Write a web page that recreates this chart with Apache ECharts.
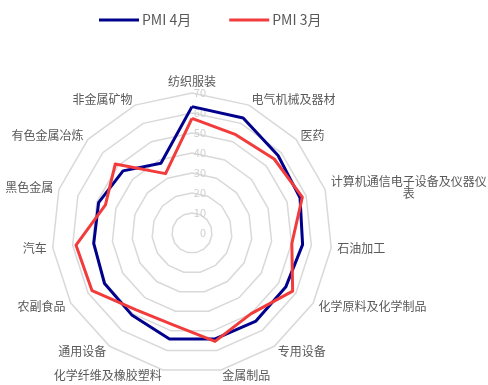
<!DOCTYPE html>
<html>
<head>
<meta charset="utf-8">
<script src="https://cdn.jsdelivr.net/npm/echarts@6/dist/echarts.min.js"></script>
<style>
  html, body { margin: 0; padding: 0; background: #ffffff; }
  #chart { width: 488px; height: 385px; }
</style>
</head>
<body>
<div id="chart"></div>
<script>
// Industry PMI, April vs March (categories listed clockwise from the top)
const categories = [
  '纺织服装', '电气机械及器材', '医药', '计算机通信电子设备及仪器仪表', '石油加工',
  '化学原料及化学制品', '专用设备', '金属制品', '化学纤维及橡胶塑料', '通用设备',
  '农副食品', '汽车', '黑色金属', '有色金属冶炼', '非金属矿物'
];
const pmiApril = [63.2, 62.9, 57.9, 56.8, 55.6, 54.1, 54.4, 54.2, 54.2, 50.9, 50.5, 49.4, 49.1, 46.4, 38.2];
const pmiMarch = [57.3, 53.8, 55.3, 58.0, 50.2, 58.1, 50.0, 55.4, 46.8, 47.5, 57.7, 58.3, 45.5, 51.6, 32.5];
const seriesNames = ['PMI 4月', 'PMI 3月'];
const axisMax = 70;

const textColor = '#595959';
const fontFamily = '"Noto Sans CJK SC", "Noto Sans", sans-serif';

// ECharts lays radar axes out counter-clockwise; keep the first axis on top
// and reverse the rest so the categories run clockwise.
const order = [0].concat(categories.map((_, i) => i).slice(1).reverse());
const pick = arr => order.map(i => arr[i]);

const chart = echarts.init(document.getElementById('chart'), null, { renderer: 'canvas' });

const indicator = pick(categories).map((name, i) => {
  const item = { name: name, min: 0, max: axisMax };
  if (i === 0) item.axisLabel = { show: true };
  return item;
});

chart.setOption({
  animation: false,
  backgroundColor: '#ffffff',
  legend: {
    top: 8,
    left: 94,
    itemWidth: 40,
    itemHeight: 3,
    itemGap: 38,
    icon: 'rect',
    data: seriesNames,
    textStyle: { color: textColor, fontSize: 14, fontFamily: fontFamily, padding: [0, 0, 0, -2] }
  },
  radar: {
    center: [192, 233],
    radius: 140,
    startAngle: 90,
    splitNumber: 7,
    shape: 'polygon',
    indicator: indicator,
    nameGap: 6,
    axisName: {
      color: textColor,
      fontSize: 12,
      fontFamily: fontFamily,
      formatter: function (name) {
        if (name === '计算机通信电子设备及仪器仪表') {
          return '计算机通信电子设备及仪器仪\n{c|表}';
        }
        return name;
      },
      rich: {
        c: { align: 'center', color: textColor, fontSize: 12, fontFamily: fontFamily }
      }
    },
    axisLine: { show: false },
    axisTick: { show: false },
    axisLabel: {
      show: false,
      color: '#cfcfcf',
      fontSize: 11,
      margin: -14,
      align: 'right',
      fontFamily: fontFamily
    },
    splitLine: { lineStyle: { color: '#d9d9d9', width: 1.5 } },
    splitArea: { show: false }
  },
  series: [{
    type: 'radar',
    symbol: 'none',
    data: [
      {
        name: seriesNames[0],
        value: pick(pmiApril),
        lineStyle: { color: '#00008c', width: 3 },
        itemStyle: { color: '#00008c' }
      },
      {
        name: seriesNames[1],
        value: pick(pmiMarch),
        lineStyle: { color: '#f23c3c', width: 3 },
        itemStyle: { color: '#f23c3c' }
      }
    ]
  }]
});
</script>
</body>
</html>
